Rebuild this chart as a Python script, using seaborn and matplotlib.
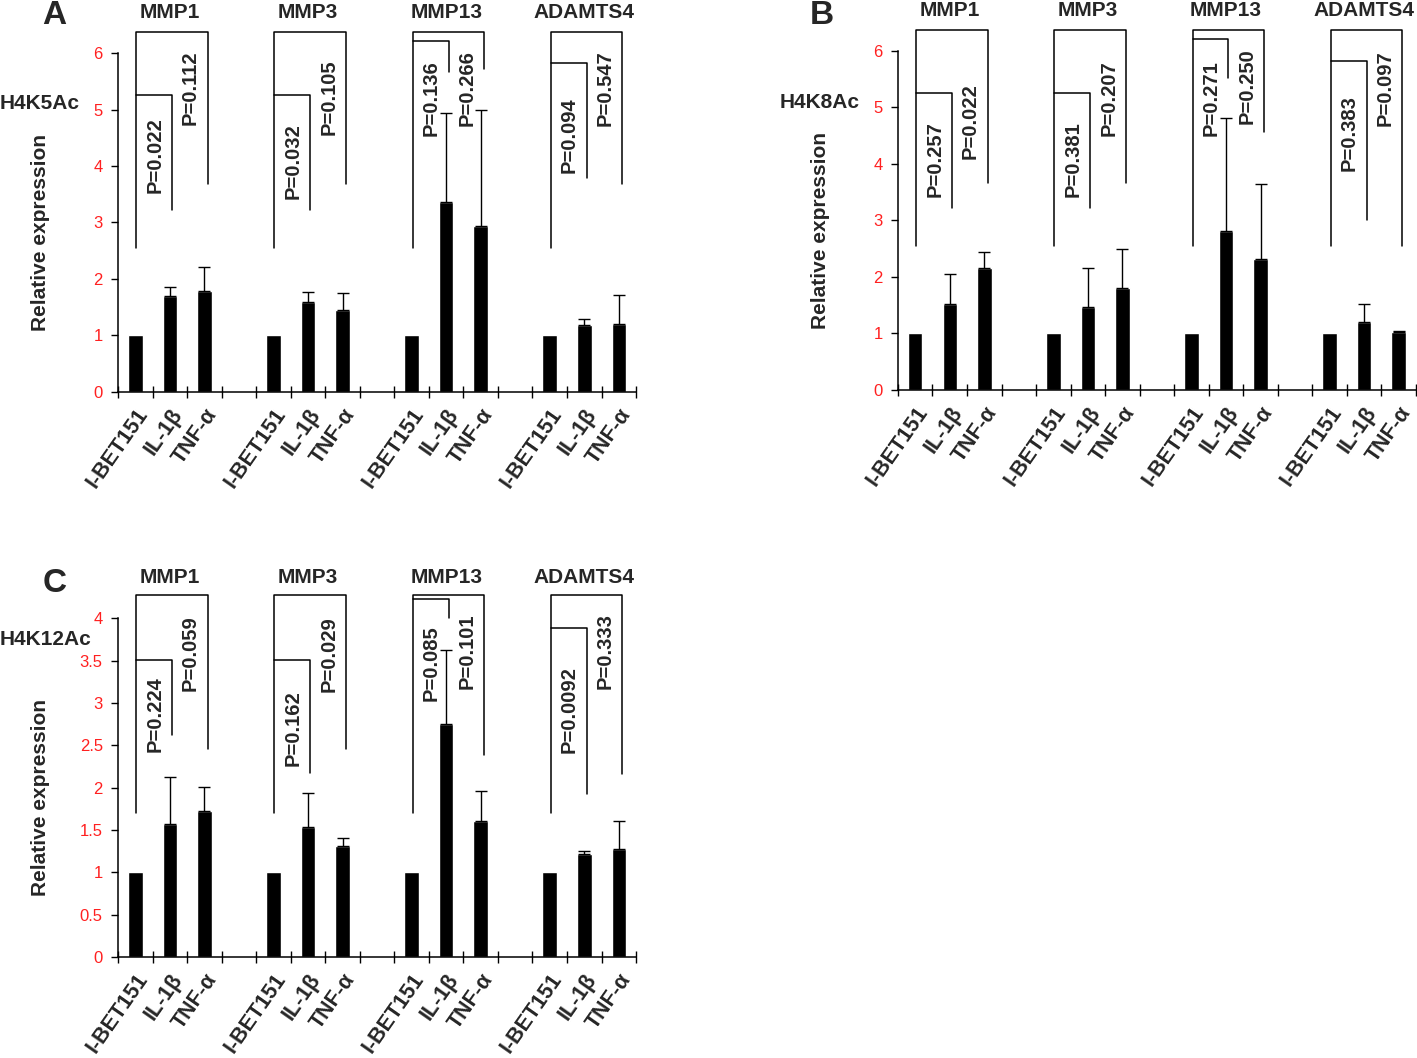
import numpy as np
import pandas as pd
import matplotlib
matplotlib.use("Agg")
import matplotlib.pyplot as plt
import seaborn as sns

genes = ["MMP1", "MMP3", "MMP13", "ADAMTS4"]
treatments = ["I-BET151", "IL-1β", "TNF-α"]

# bar heights and upper error, 3 treatments per gene
h4k5_mean = [1, 1.70, 1.79, 1, 1.60, 1.46, 1, 3.36, 2.93, 1, 1.19, 1.21]
h4k5_err = [0, 0.16, 0.43, 0, 0.17, 0.29, 0, 1.58, 2.07, 0, 0.10, 0.51]
h4k8_mean = [1, 1.52, 2.16, 1, 1.46, 1.81, 1, 2.81, 2.31, 1, 1.21, 1.03]
h4k8_err = [0, 0.53, 0.28, 0, 0.70, 0.69, 0, 2.00, 1.34, 0, 0.31, 0.01]
h4k12_mean = [1, 1.57, 1.72, 1, 1.54, 1.31, 1, 2.75, 1.61, 1, 1.22, 1.27]
h4k12_err = [0, 0.56, 0.29, 0, 0.40, 0.09, 0, 0.88, 0.35, 0, 0.03, 0.33]

# p values: (I-BET151 vs IL-1b, I-BET151 vs TNF-a)
h4k5_p = [("0.022", "0.112"), ("0.032", "0.105"), ("0.136", "0.266"), ("0.094", "0.547")]
h4k8_p = [("0.257", "0.022"), ("0.381", "0.207"), ("0.271", "0.250"), ("0.383", "0.097")]
h4k12_p = [("0.224", "0.059"), ("0.162", "0.029"), ("0.085", "0.101"), ("0.0092", "0.333")]

# bracket heights: outer top, left leg end, outer right end, inner top, inner right end, text1 top, text2 top
h4k5_br = [(6.38, 2.55, 3.69, 5.26, 3.23, 4.87, 6.05),
           (6.38, 2.55, 3.69, 5.26, 3.23, 4.76, 5.88),
           (6.38, 2.55, 5.71, 6.21, 5.67, 5.88, 6.05),
           (6.38, 2.55, 3.69, 5.83, 3.79, 5.22, 6.05)]
h4k8_br = [(6.38, 2.55, 3.67, 5.25, 3.22, 4.75, 5.43),
           (6.38, 2.55, 3.67, 5.25, 3.22, 4.75, 5.84),
           (6.38, 2.55, 4.57, 6.21, 5.53, 5.84, 6.05),
           (6.38, 2.55, 2.54, 5.82, 3.00, 5.22, 6.02)]
h4k12_br = [(4.27, 1.70, 2.46, 3.51, 2.62, 3.31, 4.04),
            (4.27, 1.70, 2.46, 3.51, 2.17, 3.15, 4.02),
            (4.27, 1.70, 2.38, 4.23, 4.00, 3.92, 4.06),
            (4.27, 1.70, 2.16, 3.89, 1.93, 3.44, 4.06)]

sns.set_style("white")
plt.rcParams["font.family"] = ["Liberation Sans", "DejaVu Sans"]

# slot order with an empty slot between genes
order = []
for i, g in enumerate(genes):
    for t in treatments:
        order.append(g + "|" + t)
    if i < len(genes) - 1:
        order.append(" " * (i + 1))


def draw_panel(ax, means, errs, pvals, brackets, ymax, yticks, yticklabels, mark, mark_y):
    df = pd.DataFrame({
        "slot": [g + "|" + t for g in genes for t in treatments],
        "value": means,
    })
    sns.barplot(data=df, x="slot", y="value", order=order, color="black",
                saturation=1, width=0.42, errorbar=None, ax=ax)
    xs = [order.index(s) for s in df["slot"]]
    for x, m, e in zip(xs, means, errs):
        if e > 0:
            ax.errorbar(x, m, yerr=[[0], [e]], fmt="none", ecolor="black",
                        elinewidth=1, capsize=4, capthick=1)

    for gi, (g, p, b) in enumerate(zip(genes, pvals, brackets)):
        base = gi * 4
        top, lbot, rbot, itop, ibot, t1, t2 = b
        xl, xi, xr = base + 0.03, base + 1.07, base + 2.1
        ax.plot([xl, xl, xr, xr], [lbot, top, top, rbot], color="black", lw=1.1, clip_on=False)
        ax.plot([xl, xi, xi], [itop, itop, ibot], color="black", lw=1.1, clip_on=False)
        ax.text(base + 0.57, t1, "P=" + p[0], rotation=90, ha="center", va="top",
                fontsize=14.5, fontweight="bold")
        ax.text(base + 1.6, t2, "P=" + p[1], rotation=90, ha="center", va="top",
                fontsize=14.5, fontweight="bold")
        ax.text(base + 1.0, 1.12, g, transform=ax.get_xaxis_transform(),
                ha="center", va="center", fontsize=15, fontweight="bold")

    ax.set_xlim(-0.5, 14.5)
    ax.set_ylim(0, ymax)
    ax.set_yticks(yticks)
    ax.set_yticklabels(yticklabels, color="#ff2020", fontsize=12)
    ax.tick_params(axis="y", direction="out", length=5, width=1, color="black", pad=6, left=True)

    labels = []
    for s in order:
        labels.append(s.split("|")[1] if "|" in s else "")
    ax.set_xticks(range(len(order)))
    ax.set_xticklabels(labels, rotation=55, ha="right", rotation_mode="anchor",
                       fontsize=15.5, fontweight="bold")
    ax.tick_params(axis="x", length=0, pad=9)
    ax.set_xticks(np.arange(-0.5, 15, 1), minor=True)
    ax.tick_params(axis="x", which="minor", direction="inout", length=9, width=1,
                   color="black", bottom=True)

    sns.despine(ax=ax)
    for sp in ["left", "bottom"]:
        ax.spines[sp].set_color("black")
        ax.spines[sp].set_linewidth(1.1)
    ax.set_xlabel("")
    ax.set_ylabel("Relative expression", fontsize=15, fontweight="bold")
    ax.yaxis.set_label_coords(-0.131, 0.47)
    ax.text(-0.228, mark_y, mark, transform=ax.transAxes,
            ha="left", va="center", fontsize=15, fontweight="bold")


fig = plt.figure(figsize=(14.17, 10.58), dpi=100)
ax_a = fig.add_axes([0.0833, 0.6295, 0.3656, 0.3204])
ax_b = fig.add_axes([0.6337, 0.6314, 0.3656, 0.3204])
ax_c = fig.add_axes([0.0833, 0.0955, 0.3656, 0.3201])

ticks6 = [0, 1, 2, 3, 4, 5, 6]
labels6 = ["0", "1", "2", "3", "4", "5", "6"]
ticks4 = [0, 0.5, 1, 1.5, 2, 2.5, 3, 3.5, 4]
labels4 = ["0", "0.5", "1", "1.5", "2", "2.5", "3", "3.5", "4"]

draw_panel(ax_a, h4k5_mean, h4k5_err, h4k5_p, h4k5_br, 6, ticks6, labels6, "H4K5Ac", 0.85)
draw_panel(ax_b, h4k8_mean, h4k8_err, h4k8_p, h4k8_br, 6, ticks6, labels6, "H4K8Ac", 0.847)
draw_panel(ax_c, h4k12_mean, h4k12_err, h4k12_p, h4k12_br, 4, ticks4, labels4, "H4K12Ac", 0.936)

fig.text(54 / 1417, 1 - 15 / 1058, "A", ha="center", va="center", fontsize=24, fontweight="bold")
fig.text(822 / 1417, 1 - 15 / 1058, "B", ha="center", va="center", fontsize=24, fontweight="bold")
fig.text(55 / 1417, 1 - 584 / 1058, "C", ha="center", va="center", fontsize=24, fontweight="bold")

fig.savefig("out.png", dpi=100)
